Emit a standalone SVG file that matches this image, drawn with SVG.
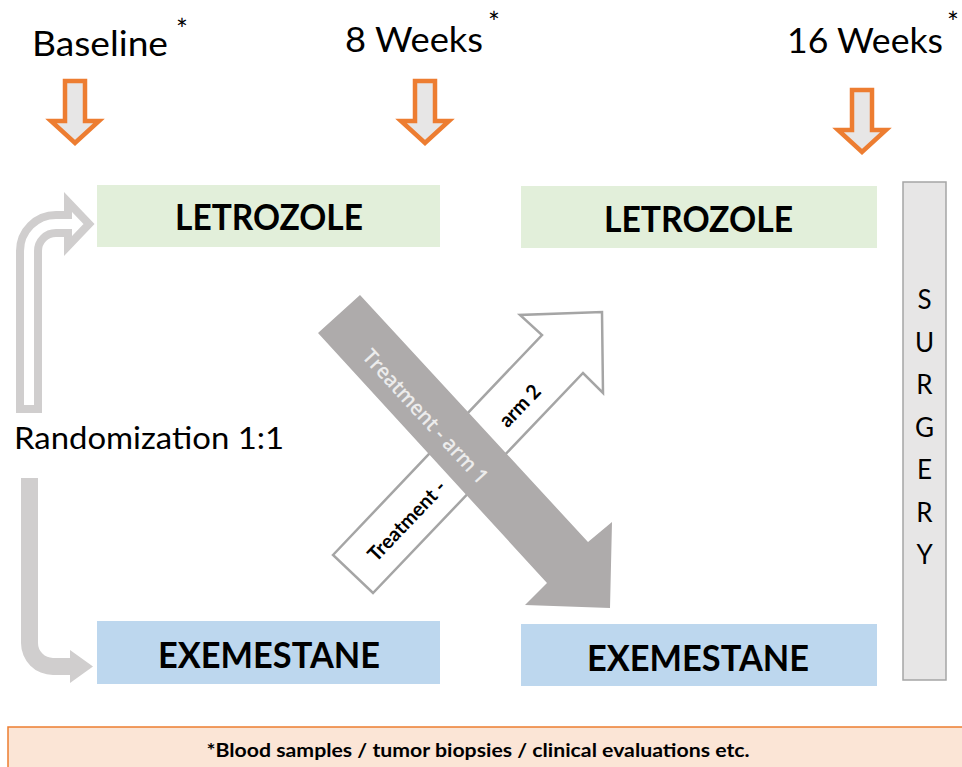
<svg xmlns="http://www.w3.org/2000/svg" width="962" height="767" viewBox="0 0 962 767">
<style>
  .tp { font-family: Lato, "Open Sans", sans-serif; font-size: 34px; fill: #000; }
  .ast { font-family: Lato, "Open Sans", sans-serif; font-size: 28px; fill: #000; }
  .drug { font-family: Lato, "Open Sans", sans-serif; font-size: 37px; font-weight: bold; fill: #000; text-anchor: middle; }
  .surg { font-family: Lato, "Open Sans", sans-serif; font-size: 26px; fill: #000; text-anchor: middle; }
  .orange { fill: #e7e6e6; stroke: #ed7d31; stroke-width: 4.5; stroke-linejoin: miter; }
  .let { fill: #e2efda; }
  .exe { fill: #bdd7ee; }
  .armtxt { font-family: Lato, "Open Sans", sans-serif; font-size: 20px; font-weight: bold; fill: #000; text-anchor: middle; dominant-baseline: central; }
  .arm1txt { font-family: "Open Sans", Lato, sans-serif; font-size: 21px; font-weight: 600; fill: #ececec; text-anchor: middle; dominant-baseline: central; }
</style>

<g id="timepoints">
  <g id="baseline">
    <text class="tp" x="32" y="56" textLength="136" lengthAdjust="spacingAndGlyphs">Baseline</text>
    <text class="ast" x="176" y="40">*</text>
    <path class="orange" d="M65,81 H85 V121 H99 L75,143 L51,121 H65 Z"/>
  </g>
  <g id="week8">
    <text class="tp" x="345" y="52" textLength="138" lengthAdjust="spacingAndGlyphs">8 Weeks</text>
    <text class="ast" x="488" y="33">*</text>
    <path class="orange" d="M415,81 H435 V121 H449 L425,143 L401,121 H415 Z"/>
  </g>
  <g id="week16">
    <text class="tp" x="787" y="53" textLength="156" lengthAdjust="spacingAndGlyphs">16 Weeks</text>
    <text class="ast" x="947" y="33">*</text>
    <path class="orange" d="M852,90 H872 V130 H886 L862,152 L838,130 H852 Z"/>
  </g>
</g>

<g id="letrozole-1">
  <rect class="let" x="97" y="185" width="343" height="62"/>
  <text class="drug" x="269" y="230" textLength="188" lengthAdjust="spacingAndGlyphs">LETROZOLE</text>
</g>
<g id="letrozole-2">
  <rect class="let" x="521" y="186" width="356" height="62"/>
  <text class="drug" x="698.5" y="232" textLength="189" lengthAdjust="spacingAndGlyphs">LETROZOLE</text>
</g>
<g id="exemestane-1">
  <rect class="exe" x="97" y="621" width="343" height="63"/>
  <text class="drug" x="269" y="668" textLength="222" lengthAdjust="spacingAndGlyphs">EXEMESTANE</text>
</g>
<g id="exemestane-2">
  <rect class="exe" x="521" y="624" width="356" height="62"/>
  <text class="drug" x="698" y="671" textLength="222" lengthAdjust="spacingAndGlyphs">EXEMESTANE</text>
</g>

<g id="surgery">
  <rect x="903" y="182" width="43" height="498" fill="#e7e6e6" stroke="#a5a5a5" stroke-width="1.5"/>
  <text class="surg" x="924.5" y="309">S</text>
  <text class="surg" x="924.5" y="351.5">U</text>
  <text class="surg" x="924.5" y="394">R</text>
  <text class="surg" x="924.5" y="436.5">G</text>
  <text class="surg" x="924.5" y="479">E</text>
  <text class="surg" x="924.5" y="521.5">R</text>
  <text class="surg" x="924.5" y="564">Y</text>
</g>

<g id="randomization">
  <text x="14" y="449" font-family="Lato, 'Open Sans', sans-serif" font-size="31" fill="#000" textLength="270" lengthAdjust="spacingAndGlyphs">Randomization 1:1</text>
</g>

<g id="connectors">
  <path id="rand-to-letrozole" d="M20,409 L20,251 A36,36 0 0 1 56,215 L68,215 L68,202 L89,224 L68,246 L68,233 L56,233 A18,18 0 0 0 38,251 L38,409 Z" fill="#ffffff" stroke="#d0cece" stroke-width="8" stroke-linejoin="miter"/>
  <path id="rand-to-exemestane" d="M21,478 L38,478 L38,643 A15,15 0 0 0 53,658 L70,658 L70,650 L93,666.5 L70,683 L70,675 L53,675 A32,32 0 0 1 21,643 Z" fill="#d0cece"/>
  <g id="arm2">
    <polygon points="333,555 542,335 520,315 602,312 603,393 583,373 373,593" fill="#ffffff" stroke="#a5a5a5" stroke-width="2.5"/>
    <text class="armtxt" transform="translate(406,520) rotate(-46.4)" textLength="103" lengthAdjust="spacingAndGlyphs">Treatment -</text>
    <text class="armtxt" transform="translate(519,405) rotate(-46.4)" textLength="50" lengthAdjust="spacingAndGlyphs">arm 2</text>
  </g>
  <g id="arm1">
    <polygon points="360,295 588,542 612,522 610,608 525,605 547,583 318,333" fill="#aeabab"/>
    <text class="arm1txt" transform="translate(426,416) rotate(47.4)" textLength="174" lengthAdjust="spacingAndGlyphs">Treatment - arm 1</text>
  </g>
</g>

<g id="footnote">
  <rect x="8" y="727" width="962" height="50" fill="#fbe5d6" stroke="#ed7d31" stroke-width="1.5"/>
  <text x="478" y="757" text-anchor="middle" font-family="Lato, 'Open Sans', sans-serif" font-size="19" font-weight="bold" fill="#000" textLength="543" lengthAdjust="spacingAndGlyphs">*Blood samples / tumor biopsies / clinical evaluations etc.</text>
</g>
</svg>
